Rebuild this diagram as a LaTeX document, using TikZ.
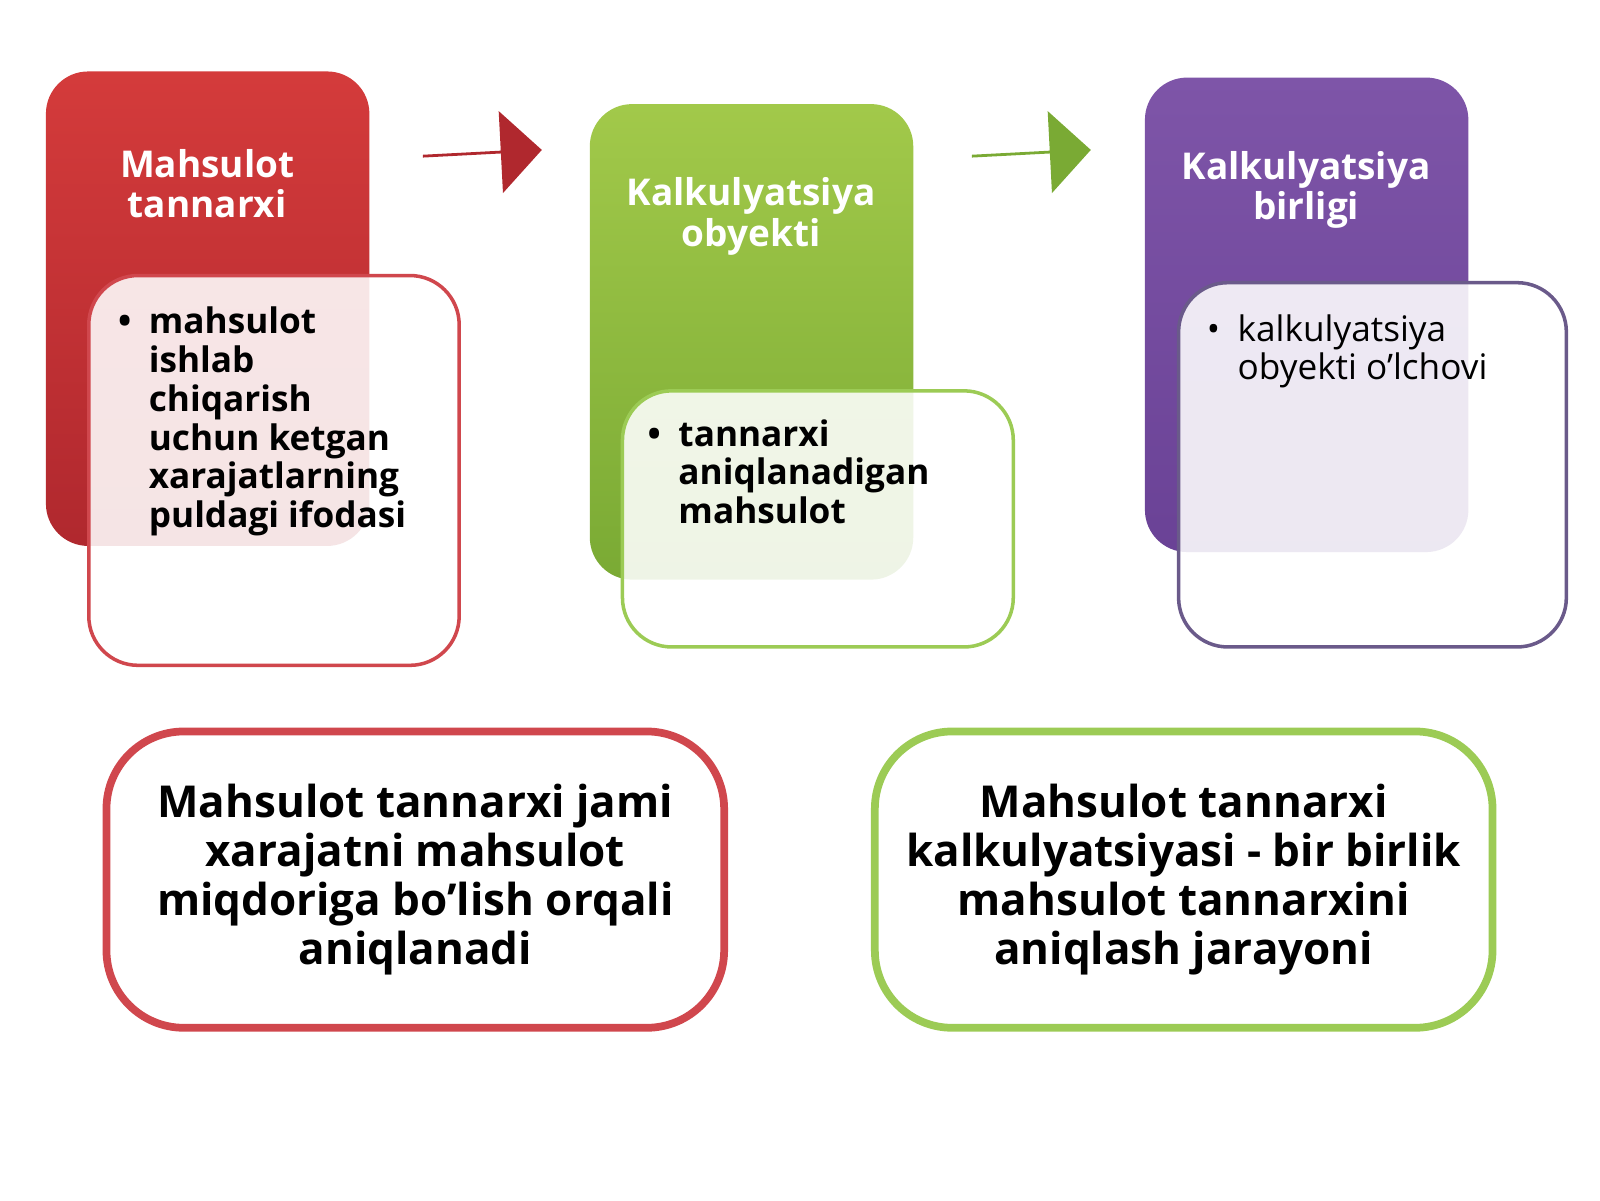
\documentclass[tikz,border=0pt]{standalone}
\usepackage{fontspec}
\setmainfont{Open Sans}
\usetikzlibrary{shapes.arrows}
\definecolor{redtop}{HTML}{D43B3B}
\definecolor{redbot}{HTML}{B0282E}
\definecolor{greentop}{HTML}{A2C94A}
\definecolor{greenbot}{HTML}{7AAA34}
\definecolor{purpletop}{HTML}{7E55A8}
\definecolor{purplebot}{HTML}{6A4296}
\definecolor{redline}{HTML}{D0474D}
\definecolor{greenline}{HTML}{9CCB55}
\definecolor{purpleline}{HTML}{6A5A8A}

\begin{document}
\begin{tikzpicture}[x=0.0102cm,y=-0.0102cm,
            head box/.style={rounded corners=12pt},
            body box/.style={rounded corners=14pt,fill=white,fill opacity=0.88,line width=1pt},
            head text/.style={text=white,font=\fontsize{10.5}{11.5}\selectfont\bfseries,align=center},
            body text/.style={font=\fontsize{10}{11}\selectfont\bfseries,anchor=north west,inner sep=0pt},
            flow arrow/.style={single arrow,minimum height=1.19cm,minimum width=0.82cm,single arrow head extend=0.2cm,inner sep=0pt},
            note box/.style={rounded corners=22pt,line width=2.2pt,fill=white,minimum width=6.17cm,minimum height=2.96cm,align=center,font=\fontsize{12.5}{14}\selectfont\bfseries},
            ]
            \useasboundingbox (0,0) rectangle (1568,1176);

            % headers
            \shade[head box,top color=redtop,bottom color=redbot] (45,70) rectangle (362,535);
            \shade[head box,top color=greentop,bottom color=greenbot] (578,102) rectangle (895,568);
            \shade[head box,top color=purpletop,bottom color=purplebot] (1122,76) rectangle (1439,541);
            \node[head text] (h1) at (203,180) {Mahsulot\\tannarxi};
            \node[head text] (h2) at (736,212) {Kalkulyatsiya\\obyekti};
            \node[head text] (h3) at (1280,186) {Kalkulyatsiya\\birligi};

            % arrows
            \node[flow arrow,fill=redbot,rotate=3] (a1) at (472,150) {};
            \node[flow arrow,fill=greenbot,rotate=3] (a2) at (1010,150) {};

            % bodies
            \draw[body box,draw=redline,draw opacity=1] (87,270) rectangle (450,652);
            \draw[body box,draw=greenline,draw opacity=1] (610,383) rectangle (993,634);
            \draw[body box,draw=purpleline,draw opacity=1] (1155,277) rectangle (1535,634);
            \node[body text] (b1) at (115,300) {\begin{tabular}{@{}l@{\hspace{0.5em}}l@{}}
              \textbullet & mahsulot\\ & ishlab\\ & chiqarish\\ & uchun ketgan\\ & xarajatlarning\\ & puldagi ifodasi\end{tabular}};
            \node[body text] (b2) at (634,410) {\begin{tabular}{@{}l@{\hspace{0.5em}}l@{}}
              \textbullet & tannarxi\\ & aniqlanadigan\\ & mahsulot\end{tabular}};
            \node[body text,font=\fontsize{10}{11}\selectfont] (b3) at (1182,307) {\begin{tabular}{@{}l@{\hspace{0.5em}}l@{}}
              \textbullet & kalkulyatsiya\\ & obyekti o’lchovi\end{tabular}};

            % notes
            \node[note box,draw=redline] (n1) at (407,862) {Mahsulot tannarxi jami\\xarajatni mahsulot\\miqdoriga bo’lish orqali\\aniqlanadi};
            \node[note box,draw=greenline] (n2) at (1160,862) {Mahsulot tannarxi\\kalkulyatsiyasi - bir birlik\\mahsulot tannarxini\\aniqlash jarayoni};
        \end{tikzpicture}
\end{document}
